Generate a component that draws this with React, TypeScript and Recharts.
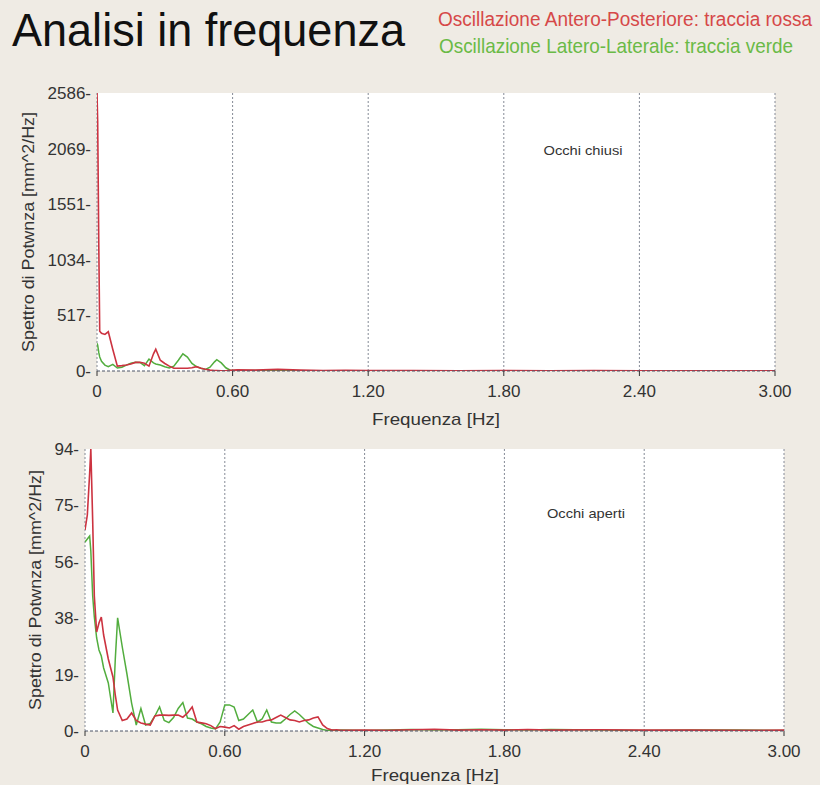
import React from 'react';
import { LineChart, Line, XAxis, YAxis, CartesianGrid } from 'recharts';

const FONT = '"Liberation Sans", Arial, sans-serif';

const xTicks = [0, 0.6, 1.2, 1.8, 2.4, 3.0];
const xTickLabels = ['0', '0.60', '1.20', '1.80', '2.40', '3.00'];

const topYTicks = [0, 517.2, 1034.4, 1551.6, 2068.8, 2586];
const topYLabels = ['0', '517', '1034', '1551', '2069', '2586'];
const bottomYTicks = [0, 18.8, 37.6, 56.4, 75.2, 94];
const bottomYLabels = ['0', '19', '38', '56', '75', '94'];

// Occhi chiusi (eyes closed)
const topFreq = [
  0, 0.003, 0.008, 0.012, 0.02, 0.035, 0.05, 0.07, 0.09, 0.11,
  0.13, 0.15, 0.17, 0.19, 0.21, 0.23, 0.25, 0.26, 0.28, 0.3,
  0.32, 0.34, 0.36, 0.38, 0.4, 0.42, 0.44, 0.46, 0.48, 0.5,
  0.52, 0.53, 0.55, 0.57, 0.59, 0.62, 0.7, 0.8, 0.9, 1.0,
  1.1, 1.2, 1.4, 1.6, 1.8, 2.0, 2.2, 2.4, 2.6, 2.8, 3.0,
];
const topAP = [
  2586, 2320, 1150, 370, 350, 340, 365, 200, 45, 50,
  56, 65, 80, 82, 72, 45, 160, 202, 100, 70,
  45, 25, 25, 25, 25, 30, 40, 25, 16, 8,
  5, 5, 3, 3, 6, 10, 8, 15, 8, 5,
  6, 4, 5, 3, 4, 3, 4, 3, 3, 2, 3,
];
const topLL = [
  258, 240, 170, 130, 90, 55, 40, 62, 28, 35,
  55, 72, 82, 80, 50, 110, 75, 65, 55, 40,
  28, 45, 100, 160, 130, 70, 40, 25, 15, 35,
  85, 105, 75, 30, 8, 3, 4, 3, 2, 3,
  2, 2, 2, 1, 2, 1, 2, 1, 1, 1, 1,
];

// Occhi aperti (eyes open)
const bottomFreq = [
  0, 0.01, 0.02, 0.025, 0.033, 0.04, 0.05, 0.06, 0.07, 0.08,
  0.1, 0.12, 0.13, 0.14,
  0.16, 0.18, 0.2, 0.22, 0.24, 0.26, 0.28, 0.3, 0.32, 0.34,
  0.36, 0.38, 0.4, 0.42, 0.44, 0.46, 0.48, 0.5, 0.52, 0.54,
  0.56, 0.58, 0.6, 0.62, 0.64, 0.66, 0.68, 0.7, 0.72, 0.74,
  0.76, 0.78, 0.8, 0.82, 0.84, 0.86, 0.88, 0.9, 0.92, 0.94,
  0.96, 0.98, 1.0, 1.02, 1.04, 1.06, 1.08, 1.1,
  1.2, 1.3, 1.4, 1.5, 1.6, 1.7, 1.8, 1.9, 2.0,
  2.2, 2.4, 2.6, 2.8, 3.0,
];
const bottomAP = [
  67, 72, 86, 94, 70, 45, 33, 36, 38, 32,
  24, 18, 12, 7,
  3.5, 4, 6, 3.5, 2.7, 2.3, 2, 5, 5.3, 5.3,
  5.2, 5.3, 5.3, 4.6, 6, 8, 3, 2.7, 2.4, 1.8,
  0.8, 1.5, 1.3, 1, 1.8, 0.6, 1.5, 2, 2.5, 3,
  3, 3.5, 3.7, 4.5, 5.3, 4.5, 3.7, 3.5, 3, 3.5,
  3.7, 4.3, 4.7, 2, 0.8, 0.3, 0.4, 0.2,
  0.3, 0.2, 0.4, 0.6, 0.3, 0.4, 0.3, 0.5, 0.3,
  0.4, 0.3, 0.3, 0.2, 0.3,
];
const bottomLL = [
  63, 64, 65, 60, 45, 38, 31, 27, 25, 21,
  16, 6, 24, 37.7,
  28, 19, 9.3, 2, 7.5, 2, 2.5, 5, 8, 3.5,
  2.8, 4.5, 7.5, 9.5, 4.3, 4, 3, 2.4, 1.5, 1,
  0.7, 3, 8.7, 8.7, 8, 3.5, 4, 5.5, 7, 3,
  4, 7, 3, 2.7, 2.7, 4, 5.5, 6.7, 5.5, 4,
  2.5, 1.5, 1, 0.5, 0.2, 0.3, 0.2, 0.3,
  0.2, 0.3, 0.5, 0.3, 0.4, 0.6, 0.4, 0.3, 0.5,
  0.3, 0.2, 0.3, 0.3, 0.2,
];

const topData = topFreq.map((f, i) => ({ f, ap: topAP[i], ll: topLL[i] }));
const bottomData = bottomFreq.map((f, i) => ({ f, ap: bottomAP[i], ll: bottomLL[i] }));

const RED = '#cc3340';
const GREEN = '#52ad3e';
const TICK_STYLE = { fontSize: 17, fill: '#333', fontFamily: FONT };

type PanelProps = {
  data: { f: number; ap: number; ll: number }[];
  yTicks: number[];
  yLabels: string[];
  yMax: number;
  top: number;
  height: number;
  margin: { top: number; right: number; bottom: number; left: number };
};

function Panel({ data, yTicks, yLabels, yMax, top, height, margin }: PanelProps) {
  return (
    <div style={{ position: 'absolute', left: 0, top, width: 820, height }}>
      <LineChart width={820} height={height} data={data} margin={margin}>
        <CartesianGrid
          horizontal={false}
          vertical
          stroke="#858a96"
          strokeDasharray="2 2"
          fill="#ffffff"
          fillOpacity={1}
        />
        <XAxis
          dataKey="f"
          type="number"
          domain={[0, 3]}
          ticks={xTicks}
          interval={0}
          allowDataOverflow
          tickFormatter={(v: number) => xTickLabels[xTicks.indexOf(v)] ?? ''}
          height={30}
          tickSize={5}
          tickMargin={9}
          axisLine={{ stroke: '#4d5566', strokeDasharray: '3 2' }}
          tickLine={{ stroke: '#333' }}
          tick={TICK_STYLE}
        />
        <YAxis
          type="number"
          domain={[0, yMax]}
          ticks={yTicks}
          interval={0}
          allowDataOverflow
          width={60}
          tickSize={0}
          tickMargin={6}
          axisLine={false}
          tickLine={false}
          tickFormatter={(v: number) => `${yLabels[yTicks.indexOf(v)] ?? ''}-`}
          tick={TICK_STYLE}
        />
        <Line
          type="linear"
          dataKey="ll"
          stroke={GREEN}
          strokeWidth={1.5}
          dot={false}
          isAnimationActive={false}
        />
        <Line
          type="linear"
          dataKey="ap"
          stroke={RED}
          strokeWidth={1.6}
          dot={false}
          isAnimationActive={false}
        />
      </LineChart>
    </div>
  );
}

export default function App() {
  return (
    <div
      style={{
        position: 'absolute',
        left: 0,
        top: 0,
        width: 820,
        height: 785,
        background: '#efebe4',
        overflow: 'hidden',
        fontFamily: FONT,
      }}
    >
      <Panel
        data={topData}
        yTicks={topYTicks}
        yLabels={topYLabels}
        yMax={2586}
        top={0}
        height={430}
        margin={{ top: 93, right: 45, bottom: 29, left: 37 }}
      />
      <Panel
        data={bottomData}
        yTicks={bottomYTicks}
        yLabels={bottomYLabels}
        yMax={94}
        top={430}
        height={355}
        margin={{ top: 19, right: 36, bottom: 24, left: 25 }}
      />
      <svg
        width={820}
        height={785}
        style={{ position: 'absolute', left: 0, top: 0, pointerEvents: 'none' }}
        fontFamily={FONT}
      >
        <text x={12} y={46} fontSize={46} fill="#111" textLength={393} lengthAdjust="spacingAndGlyphs">
          Analisi in frequenza
        </text>
        <text
          x={0}
          y={0}
          transform="translate(438,26) scale(1,1.08)"
          fontSize={18.5}
          fill="#d64848"
          textLength={374}
          lengthAdjust="spacingAndGlyphs"
        >
          Oscillazione Antero-Posteriore: traccia rossa
        </text>
        <text
          x={0}
          y={0}
          transform="translate(439,53) scale(1,1.08)"
          fontSize={18}
          fill="#6aba46"
          textLength={354}
          lengthAdjust="spacingAndGlyphs"
        >
          Oscillazione Latero-Laterale: traccia verde
        </text>
        <text
          x={0}
          y={0}
          fontSize={17}
          fill="#333"
          textAnchor="middle"
          dominantBaseline="central"
          transform="translate(28,232) rotate(-90)"
          textLength={240}
          lengthAdjust="spacingAndGlyphs"
        >
          Spettro di Potwnza [mm^2/Hz]
        </text>
        <text
          x={0}
          y={0}
          fontSize={17}
          fill="#333"
          textAnchor="middle"
          dominantBaseline="central"
          transform="translate(35,590) rotate(-90)"
          textLength={240}
          lengthAdjust="spacingAndGlyphs"
        >
          Spettro di Potwnza [mm^2/Hz]
        </text>
        <text x={436} y={419} fontSize={17} fill="#333" textAnchor="middle" dominantBaseline="central" textLength={128} lengthAdjust="spacingAndGlyphs">
          Frequenza [Hz]
        </text>
        <text x={435} y={775} fontSize={17} fill="#333" textAnchor="middle" dominantBaseline="central" textLength={128} lengthAdjust="spacingAndGlyphs">
          Frequenza [Hz]
        </text>
        <text x={583} y={150} fontSize={13} fill="#333" textAnchor="middle" dominantBaseline="central" textLength={79} lengthAdjust="spacingAndGlyphs">
          Occhi chiusi
        </text>
        <text x={586} y={513} fontSize={13} fill="#333" textAnchor="middle" dominantBaseline="central" textLength={78} lengthAdjust="spacingAndGlyphs">
          Occhi aperti
        </text>
      </svg>
    </div>
  );
}
